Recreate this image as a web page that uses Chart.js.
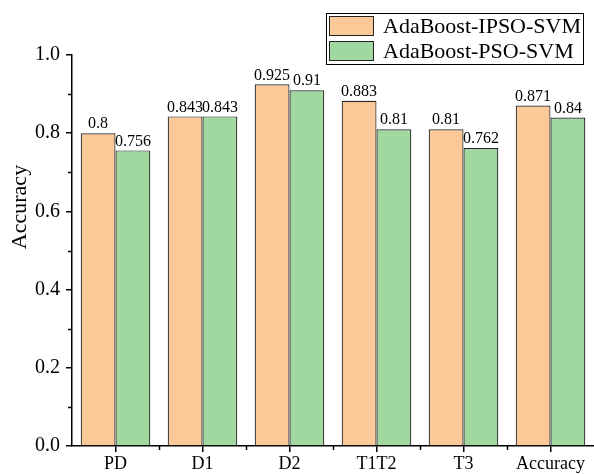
<!DOCTYPE html>
<html>
<head>
<meta charset="utf-8">
<script src="https://cdn.jsdelivr.net/npm/chart.js@4"></script>
<style>
  body { margin: 0; background: #fff; }
</style>
</head>
<body>
<canvas id="chart" width="594" height="474"></canvas>
<script>
const categories = ['PD', 'D1', 'D2', 'T1T2', 'T3', 'Accuracy'];
const ipsoValues = [0.8, 0.843, 0.925, 0.883, 0.81, 0.871];
const psoValues = [0.756, 0.843, 0.91, 0.81, 0.762, 0.84];
const seriesNames = ['AdaBoost-IPSO-SVM', 'AdaBoost-PSO-SVM'];
const seriesColors = ['rgb(251,200,152)', 'rgb(160,216,160)'];
const yTitle = 'Accuracy';

const serif = '"Liberation Serif", "Times New Roman", serif';

// minor ticks, value labels, y title and the legend box
const extras = {
    id: 'extras',
    afterDraw(chart) {
        const ctx = chart.ctx;
        const x = chart.scales.x, y = chart.scales.y;
        const area = chart.chartArea;
        ctx.save();
        ctx.strokeStyle = '#000';
        ctx.lineWidth = 1.5;
        // minor y ticks
        for (let v = 0.1; v < 1; v += 0.2) {
            const py = Math.round(y.getPixelForValue(v)) + 0.5;
            ctx.beginPath();
            ctx.moveTo(area.left - 4, py);
            ctx.lineTo(area.left, py);
            ctx.stroke();
        }
        // minor x ticks between categories
        for (let i = 0; i < categories.length - 1; i++) {
            const px = Math.round((x.getPixelForValue(i) + x.getPixelForValue(i + 1)) / 2) + 0.5;
            ctx.beginPath();
            ctx.moveTo(px, area.bottom);
            ctx.lineTo(px, area.bottom + 4);
            ctx.stroke();
        }
        // value labels
        ctx.fillStyle = '#000';
        ctx.font = '16px ' + serif;
        ctx.textAlign = 'center';
        ctx.textBaseline = 'bottom';
        chart.data.datasets.forEach((ds, di) => {
            chart.getDatasetMeta(di).data.forEach((bar, i) => {
                ctx.fillText(String(ds.data[i]), bar.x, bar.y - 1);
            });
        });
        // y axis title
        ctx.save();
        ctx.translate(20, 207);
        ctx.rotate(-Math.PI / 2);
        ctx.font = '22px ' + serif;
        ctx.textBaseline = 'middle';
        ctx.fillText(yTitle, 0, 0);
        ctx.restore();
        // legend
        const lx = 326, ly = 13, lw = 257, lh = 51;
        ctx.fillStyle = '#fff';
        ctx.fillRect(lx, ly, lw, lh);
        ctx.lineWidth = 1;
        ctx.strokeStyle = '#000';
        ctx.strokeRect(lx + 0.5, ly + 0.5, lw, lh);
        ctx.font = '22px ' + serif;
        ctx.textAlign = 'left';
        ctx.textBaseline = 'middle';
        seriesNames.forEach((name, i) => {
            const sy = ly + 3 + i * 25;
            ctx.fillStyle = seriesColors[i];
            ctx.fillRect(lx + 3, sy, 44, 19);
            ctx.strokeStyle = '#222';
            ctx.strokeRect(lx + 3.5, sy + 0.5, 44, 19);
            ctx.fillStyle = '#000';
            ctx.fillText(name, lx + 57, sy + 11);
        });
        ctx.restore();
    }
};

new Chart(document.getElementById('chart'), {
    type: 'bar',
    data: {
        labels: categories,
        datasets: [{
            label: seriesNames[0],
            data: ipsoValues,
            backgroundColor: seriesColors[0],
            borderColor: '#222',
            borderWidth: 1.2,
            categoryPercentage: 0.8,
            barPercentage: 1.0
        }, {
            label: seriesNames[1],
            data: psoValues,
            backgroundColor: seriesColors[1],
            borderColor: '#222',
            borderWidth: 1.2,
            categoryPercentage: 0.8,
            barPercentage: 1.0
        }]
    },
    options: {
        responsive: false,
        animation: false,
        devicePixelRatio: 1,
        layout: { padding: { top: 55, right: 0, left: 0, bottom: 0 } },
        plugins: {
            legend: { display: false },
            tooltip: { enabled: false }
        },
        scales: {
            x: {
                offset: true,
                grid: {
                    display: true,
                    drawOnChartArea: false,
                    drawTicks: true,
                    tickLength: 6,
                    color: '#000',
                    lineWidth: 1.5,
                    offset: false
                },
                border: { display: true, color: '#000', width: 1.5 },
                ticks: {
                    color: '#000',
                    font: { family: serif, size: 18 },
                    padding: 1,
                    maxRotation: 0
                },
                afterFit(scale) { scale.height = 28; }
            },
            y: {
                min: 0,
                max: 1.0,
                grid: {
                    display: true,
                    drawOnChartArea: false,
                    drawTicks: true,
                    tickLength: 6,
                    color: '#000',
                    lineWidth: 1.5
                },
                border: { display: true, color: '#000', width: 1.5 },
                ticks: {
                    stepSize: 0.2,
                    color: '#000',
                    font: { family: serif, size: 20 },
                    padding: 6,
                    callback: v => v.toFixed(1)
                },
                afterFit(scale) { scale.width = 72; }
            }
        }
    },
    plugins: [extras]
});
</script>
</body>
</html>
